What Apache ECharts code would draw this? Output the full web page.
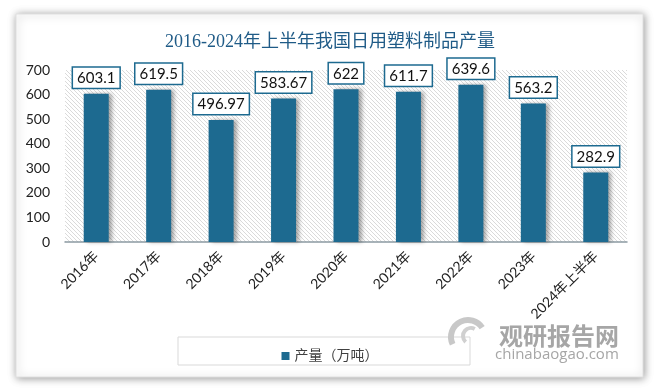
<!DOCTYPE html>
<html><head><meta charset="utf-8">
<script src="https://cdn.jsdelivr.net/npm/echarts@6/dist/echarts.min.js"></script>
<style>html,body{margin:0;padding:0;background:#fff}#c{width:660px;height:392px}</style>
</head><body><div id="c"></div>
<script>
const categories = ['2016年','2017年','2018年','2019年','2020年','2021年','2022年','2023年','2024年上半年'];
const values = [603.1, 619.5, 496.97, 583.67, 622, 611.7, 639.6, 563.2, 282.9];
const seriesName = '产量（万吨）';
const titleText = '2016-2024年上半年我国日用塑料制品产量';

// hatch pattern
const pc = document.createElement('canvas');
pc.width = 4; pc.height = 4;
const g = pc.getContext('2d');
g.fillStyle = '#ffffff'; g.fillRect(0,0,4,4);
g.strokeStyle = '#dadada'; g.lineWidth = 1;
g.beginPath(); g.moveTo(-1,-1); g.lineTo(5,5); g.moveTo(-1,3); g.lineTo(1,5); g.moveTo(3,-1); g.lineTo(5,1); g.stroke();

const chart = echarts.init(document.getElementById('c'));
const barColor = '#1d6a90';
chart.setOption({
  animation: false,
  backgroundColor: '#ffffff',
  graphic: [
    {type:'rect', z:-10, shape:{x:16,y:14,width:627,height:363}, style:{fill:'#fff', stroke:'#e0e0e0', lineWidth:1, shadowBlur:8, shadowColor:'rgba(0,0,0,0.4)', shadowOffsetX:1, shadowOffsetY:1}},
    {type:'rect', z:1, shape:{x:178,y:337,width:292,height:28}, style:{fill:'none', stroke:'#d9d9d9', lineWidth:1}},
    {type:'arc', z:2, shape:{cx:468,cy:337,r:17,startAngle:2.7,endAngle:5.7}, style:{stroke:'#c8c8c8', lineWidth:6, fill:'none'}},
    {type:'arc', z:2, shape:{cx:471,cy:336,r:8,startAngle:2.3,endAngle:5.2}, style:{stroke:'#d0d0d0', lineWidth:4, fill:'none'}},
    {type:'text', z:2, style:{x:499, y:336, text:'观研报告网', fill:'#a6a6a6', font:'bold 24px "Noto Sans CJK SC"', textVerticalAlign:'middle'}},
    {type:'text', z:2, style:{x:495, y:355, text:'chinabaogao.com', fill:'#a6a6a6', font:'15px "Open Sans"', textVerticalAlign:'middle'}}
  ],
  title: {
    text: titleText, left: 'center', top: 28,
    textStyle: {color:'#1f5b87', fontSize:18, fontWeight:'normal', fontFamily:'"Liberation Serif","Noto Sans CJK SC"'}
  },
  legend: {
    data:[seriesName], left: 'center', top: 344, itemWidth:8, itemHeight:8, itemGap:5,
    icon:'rect',
    textStyle:{color:'#404040', fontSize:14, fontFamily:'"Liberation Serif","Noto Sans CJK SC"'}
  },
  grid: {left:65, right:33, top:70, bottom:150, show:true, backgroundColor:{image:pc, repeat:'repeat'}, borderWidth:0},
  xAxis: {
    type:'category', data:categories,
    axisLine:{show:true, lineStyle:{color:'#8c9aa3', width:1.5}},
    axisTick:{show:false},
    axisLabel:{rotate:45, margin:12, color:'#222', fontSize:14, fontFamily:'Lato,"Noto Sans CJK SC"', interval:0}
  },
  yAxis: {
    type:'value', min:0, max:700, interval:100,
    axisLine:{show:false}, axisTick:{show:false}, splitLine:{show:false},
    axisLabel:{margin:15, color:'#222', fontSize:14, fontFamily:'Lato,"Noto Sans"'}
  },
  series: [{
    name: seriesName, type:'bar', data: values, barWidth:25,
    itemStyle:{color:barColor, shadowColor:'rgba(0,0,0,0.35)', shadowBlur:4, shadowOffsetX:3, shadowOffsetY:0},
    label:{show:true, position:'top', distance:6, color:'#111', fontSize:15, fontFamily:'Lato,"Noto Sans"',
      backgroundColor:'#fff', borderColor:barColor, borderWidth:1.5, padding:[3,4,2,4]}
  }]
});
</script></body></html>
